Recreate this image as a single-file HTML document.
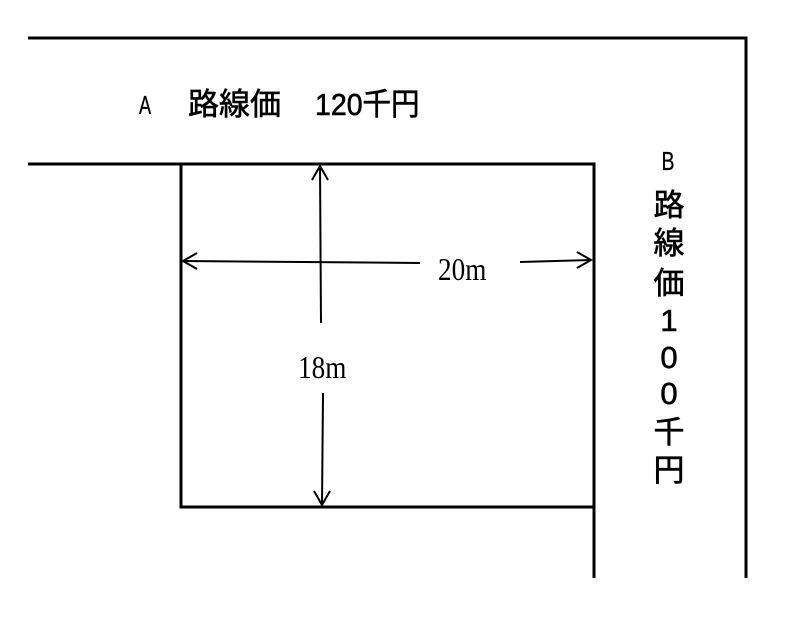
<!DOCTYPE html>
<html><head><meta charset="utf-8"><style>
html,body{margin:0;padding:0;background:#fff;}
svg{display:block;}
.s{font-family:"Liberation Sans","Noto Sans CJK JP",sans-serif;}
.r{font-family:"Liberation Serif","Noto Serif CJK SC",serif;}
</style></head><body>
<svg width="800" height="621" viewBox="0 0 800 621" xmlns="http://www.w3.org/2000/svg">
<g fill="none" stroke="#000" stroke-width="3">
<polyline points="28,38 746,38 746,578"/>
<polyline points="28,164 594,164 594,578"/>
<polyline points="181,164 181,507 594,507"/>
</g>
<g fill="none" stroke="#000" stroke-width="2">
<line x1="320" y1="166" x2="321" y2="323"/>
<polyline points="312,180 320,166 328,180"/>
<line x1="323" y1="393" x2="322" y2="505"/>
<polyline points="314,491 322,505 330,491"/>
<line x1="183" y1="261" x2="420" y2="263"/>
<polyline points="197,253 183,261 197,269"/>
<line x1="520" y1="262" x2="591" y2="260"/>
<polyline points="577,252 591,260 577,268"/>
</g>
<g class="s" stroke="#000" stroke-width="0.6">
<text x="0" y="114" font-size="26" transform="translate(139,0) scale(0.7,1)" stroke-width="0.3">A</text>
<text x="188" y="115" font-size="31">路線価</text>
<text x="0" y="115" font-size="31" transform="translate(315,0) scale(0.92,1)">120千円</text>
</g>
<text class="r" x="0" y="280" font-size="32" transform="translate(438,0) scale(0.85,1)">20m</text>
<text class="r" x="0" y="378" font-size="32" transform="translate(298,0) scale(0.85,1)">18m</text>
<g class="s" font-size="31" text-anchor="middle" stroke="#000" stroke-width="0.6">
<text x="0" y="170" font-size="26" stroke-width="0.3" transform="translate(668,0) scale(0.75,1)">B</text>
<text x="669" y="216">路</text>
<text x="669" y="254">線</text>
<text x="669" y="294">価</text>
<text x="669" y="331">1</text>
<text x="669" y="368">0</text>
<text x="669" y="404">0</text>
<text x="669" y="443">千</text>
<text x="669" y="481">円</text>
</g>
</svg>
</body></html>
